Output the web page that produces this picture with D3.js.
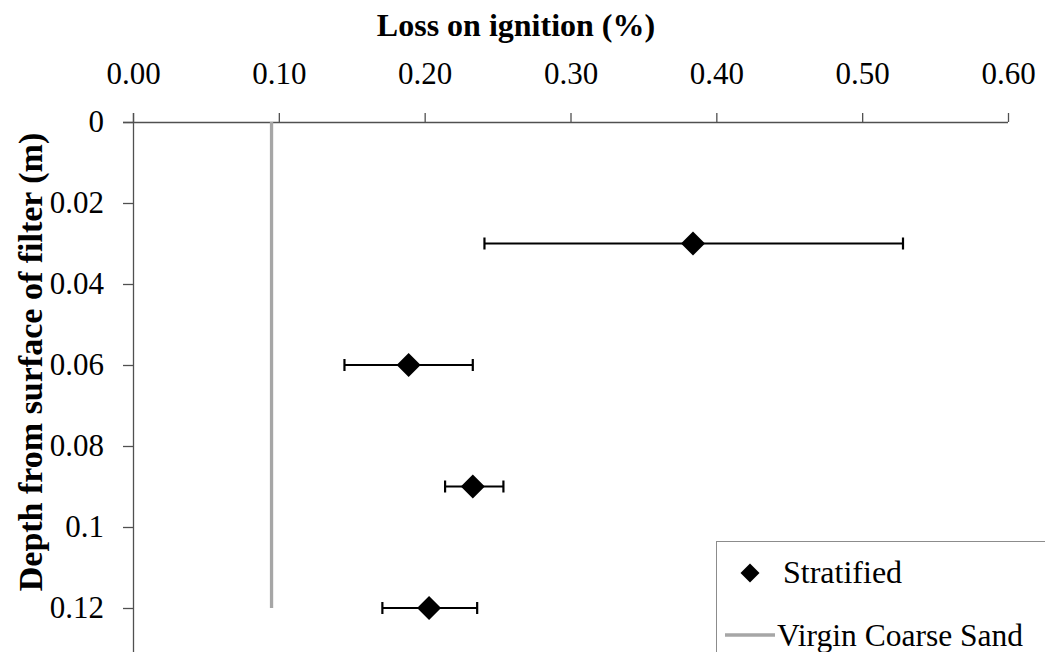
<!DOCTYPE html>
<html>
<head>
<meta charset="utf-8">
<script src="https://cdn.jsdelivr.net/npm/d3@7/dist/d3.min.js"></script>
<style>
  html, body { margin: 0; padding: 0; background: #fff; }
  svg { display: block; }
  svg text { font-family: "Liberation Serif", Tinos, "DejaVu Serif", serif !important; }
</style>
</head>
<body>
<svg id="chart" width="1045" height="652"></svg>
<script>
// Loss on ignition by depth (stratified filter) with the virgin sand reference
const depths = [0.03, 0.06, 0.09, 0.12];
const lossMean = [0.384, 0.189, 0.233, 0.203];
const lossLow = [0.241, 0.145, 0.214, 0.171];
const lossHigh = [0.528, 0.233, 0.254, 0.236];
const virginLoss = [0.095, 0.095];
const virginDepth = [0, 0.12];
const xTicks = [0, 0.1, 0.2, 0.3, 0.4, 0.5, 0.6];
const yTicks = [0, 0.02, 0.04, 0.06, 0.08, 0.1, 0.12];
const yTickLabels = ["0", "0.02", "0.04", "0.06", "0.08", "0.1", "0.12"];
const seriesNames = ["Stratified", "Virgin Coarse Sand"];

const svg = d3.select("#chart");
const plotLeft = 133, plotTop = 122, plotRight = 1008;

const x = d3.scaleLinear().domain([0, 0.6]).range([plotLeft, plotRight]);
const y = d3.scaleLinear().domain([0, 0.14]).range([plotTop, plotTop + 0.14 / 0.12 * 486]);

const axisColor = "#505050";

// top value axis
const xAxis = d3.axisTop(x).tickValues(xTicks).tickFormat(d3.format(".2f"))
  .tickSize(9).tickPadding(29);
const gx = svg.append("g").attr("transform", `translate(0,${plotTop})`).call(xAxis)
  .attr("font-family", null).attr("font-size", null);
gx.select(".domain").attr("stroke", axisColor).attr("stroke-width", 1.3)
  .attr("d", `M${plotLeft - 10},0.5H${plotRight}`);
gx.selectAll(".tick line").attr("stroke", axisColor).attr("stroke-width", 1.3);
gx.selectAll(".tick text").attr("fill", "#000").style("font-size", "31px");

// left depth axis (depth increases downward)
const yAxis = d3.axisLeft(y).tickValues(yTicks).tickFormat((d, i) => yTickLabels[i])
  .tickSize(10).tickPadding(19);
const gy = svg.append("g").attr("transform", `translate(${plotLeft},0)`).call(yAxis)
  .attr("font-family", null).attr("font-size", null);
gy.select(".domain").attr("stroke", axisColor).attr("stroke-width", 1.3)
  .attr("d", `M0.5,${plotTop - 9}V${y(0.14)}`);
gy.selectAll(".tick line").attr("stroke", axisColor).attr("stroke-width", 1.3);
gy.selectAll(".tick text").attr("fill", "#000").style("font-size", "31px");

// axis titles
svg.append("text").attr("x", 516).attr("y", 36).attr("text-anchor", "middle")
  .style("font-size", "32px").style("font-weight", "bold")
  .text("Loss on ignition (%)");
svg.append("text").attr("transform", `translate(42,362) rotate(-90)`)
  .attr("text-anchor", "middle")
  .style("font-size", "34px").style("font-weight", "bold")
  .text("Depth from surface of filter (m)");

// virgin sand reference line
const virgin = virginDepth.map((d, i) => [virginLoss[i], d]);
svg.append("path").datum(virgin)
  .attr("fill", "none").attr("stroke", "#a6a6a6").attr("stroke-width", 3.3)
  .attr("d", d3.line().x(d => x(d[0])).y(d => y(d[1])));

// error bars
const pts = depths.map((d, i) => ({ depth: d, mean: lossMean[i], lo: lossLow[i], hi: lossHigh[i] }));
const eb = svg.append("g").attr("stroke", "#000").attr("stroke-width", 2.2);
eb.selectAll("line.bar").data(pts).join("line").attr("class", "bar")
  .attr("x1", d => x(d.lo)).attr("x2", d => x(d.hi))
  .attr("y1", d => y(d.depth)).attr("y2", d => y(d.depth));
eb.selectAll("line.capl").data(pts).join("line").attr("class", "capl")
  .attr("x1", d => x(d.lo)).attr("x2", d => x(d.lo))
  .attr("y1", d => y(d.depth) - 6).attr("y2", d => y(d.depth) + 6);
eb.selectAll("line.caph").data(pts).join("line").attr("class", "caph")
  .attr("x1", d => x(d.hi)).attr("x2", d => x(d.hi))
  .attr("y1", d => y(d.depth) - 6).attr("y2", d => y(d.depth) + 6);

// diamond markers
const diamond = r => `M0,${-r}L${r},0L0,${r}L${-r},0Z`;
svg.append("g").selectAll("path").data(pts).join("path")
  .attr("transform", d => `translate(${x(d.mean)},${y(d.depth)})`)
  .attr("d", diamond(12)).attr("fill", "#000");

// legend
const lg = svg.append("g");
lg.append("rect").attr("x", 716.5).attr("y", 541.5).attr("width", 340).attr("height", 130)
  .attr("fill", "#fff").attr("stroke", "#8c8c8c").attr("stroke-width", 1);
lg.append("path").attr("transform", "translate(750,573)").attr("d", diamond(9.5)).attr("fill", "#000");
lg.append("text").attr("x", 783).attr("y", 583).style("font-size", "32px").text(seriesNames[0]);
lg.append("line").attr("x1", 725).attr("x2", 775).attr("y1", 635).attr("y2", 635)
  .attr("stroke", "#a6a6a6").attr("stroke-width", 3.3);
lg.append("text").attr("x", 777).attr("y", 646).style("font-size", "31.5px").text(seriesNames[1]);
</script>
</body>
</html>
